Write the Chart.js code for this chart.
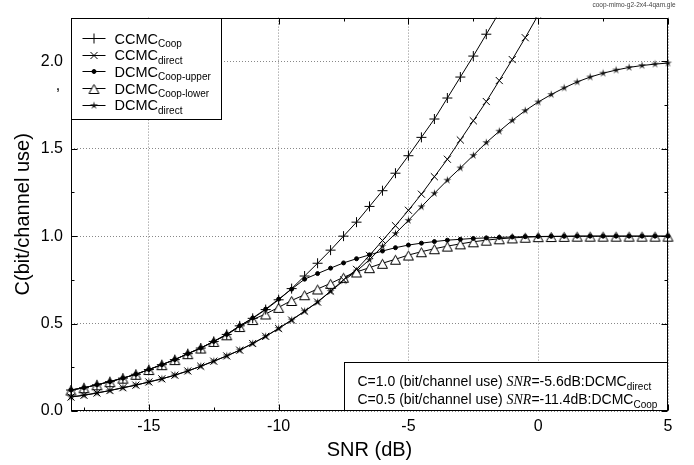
<!DOCTYPE html>
<html>
<head>
<meta charset="utf-8">
<script src="https://cdn.jsdelivr.net/npm/chart.js@4.4.0/dist/chart.umd.min.js"></script>
<style>
  html, body { margin: 0; padding: 0; background: #fff; }
  #wrap { width: 694px; height: 465px; }
</style>
</head>
<body>
<div id="wrap"><canvas id="capChart" width="694" height="465"></canvas></div>
<script>
// SNR in dB, one point every 0.5 dB
const snr = [-18, -17.5, -17, -16.5, -16, -15.5, -15, -14.5, -14, -13.5,
  -13, -12.5, -12, -11.5, -11, -10.5, -10, -9.5, -9, -8.5,
  -8, -7.5, -7, -6.5, -6, -5.5, -5, -4.5, -4, -3.5,
  -3, -2.5, -2, -1.5, -1, -0.5, 0, 0.5, 1, 1.5,
  2, 2.5, 3, 3.5, 4, 4.5, 5];

const ccmcCoop = [0.12, 0.133, 0.15, 0.168, 0.188, 0.21, 0.237, 0.265, 0.294, 0.328,
  0.36, 0.398, 0.438, 0.487, 0.53, 0.58, 0.636, 0.70, 0.772, 0.845,
  0.92, 1.0, 1.08, 1.17, 1.26, 1.36, 1.46, 1.565, 1.67, 1.79,
  1.91, 2.03, 2.155, 2.28, 2.41, null, null, null, null, null,
  null, null, null, null, null, null, null];

const ccmcDirect = [0.08, 0.09, 0.103, 0.117, 0.133, 0.148, 0.166, 0.184, 0.205, 0.229,
  0.256, 0.285, 0.315, 0.348, 0.386, 0.427, 0.472, 0.52, 0.571, 0.623,
  0.686, 0.75, 0.81, 0.89, 0.975, 1.06, 1.148, 1.24, 1.34, 1.44,
  1.55, 1.66, 1.77, 1.89, 2.01, 2.135, 2.265, 2.39, null, null,
  null, null, null, null, null, null, null];

const dcmcCoopUpper = [0.12, 0.133, 0.15, 0.168, 0.188, 0.21, 0.237, 0.265, 0.294, 0.328,
  0.36, 0.398, 0.438, 0.487, 0.532, 0.583, 0.64, 0.697, 0.754, 0.786,
  0.817, 0.847, 0.871, 0.893, 0.915, 0.934, 0.949, 0.96, 0.969, 0.977,
  0.982, 0.987, 0.99, 0.993, 0.995, 0.997, 0.998, 0.999, 0.999, 1.0,
  1.0, 1.0, 1.0, 1.0, 1.0, 1.0, 1.0];

const dcmcCoopLower = [0.12, 0.133, 0.15, 0.168, 0.188, 0.21, 0.237, 0.265, 0.294, 0.328,
  0.36, 0.398, 0.436, 0.483, 0.523, 0.555, 0.593, 0.632, 0.665, 0.698,
  0.73, 0.765, 0.795, 0.82, 0.845, 0.868, 0.892, 0.911, 0.928, 0.943,
  0.956, 0.968, 0.977, 0.985, 0.99, 0.994, 0.997, 0.998, 0.999, 1.0,
  1.0, 1.0, 1.0, 1.0, 1.0, 1.0, 1.0];

const dcmcDirect = [0.08, 0.09, 0.103, 0.117, 0.133, 0.148, 0.166, 0.184, 0.205, 0.229,
  0.256, 0.285, 0.315, 0.348, 0.386, 0.427, 0.472, 0.52, 0.571, 0.623,
  0.684, 0.745, 0.8, 0.865, 0.942, 1.015, 1.09, 1.168, 1.245, 1.32,
  1.39, 1.462, 1.535, 1.6, 1.662, 1.718, 1.767, 1.81, 1.848, 1.882,
  1.91, 1.932, 1.95, 1.965, 1.976, 1.984, 1.99];

// legend names: [main, subscript]
const names = [['CCMC', 'Coop'], ['CCMC', 'direct'], ['DCMC', 'Coop-upper'],
  ['DCMC', 'Coop-lower'], ['DCMC', 'direct']];

const xTicks = [-15, -10, -5, 0, 5];
const xMinor = [-17.5, -12.5, -7.5, -2.5, 2.5];
const yTicks = [0, 0.5, 1, 1.5, 2];
const yMinor = [0.25, 0.75, 1.25, 1.75];

const notes = [
  ['C=1.0 (bit/channel use) ', 'SNR', '=-5.6dB:DCMC', 'direct'],
  ['C=0.5 (bit/channel use) ', 'SNR', '=-11.4dB:DCMC', 'Coop']
];

const SANS = "'Liberation Sans', Arial, Helvetica, sans-serif";
const SERIF = "'Liberation Serif', 'Times New Roman', serif";

// small thin star marker
const starImg = document.createElement('canvas');
starImg.width = 11; starImg.height = 11;
(function () {
  const c = starImg.getContext('2d');
  c.beginPath();
  for (let i = 0; i < 10; i++) {
    const r = i % 2 ? 1.3 : 4.2;
    const a = -Math.PI / 2 + i * Math.PI / 5;
    const px = 5.5 + r * Math.cos(a), py = 5.5 + r * Math.sin(a);
    if (i === 0) c.moveTo(px, py); else c.lineTo(px, py);
  }
  c.closePath();
  c.fillStyle = '#111';
  c.fill();
})();

// open triangle marker, sits a bit low on the line like the original
const triImg = document.createElement('canvas');
triImg.width = 15; triImg.height = 15;
(function () {
  const c = triImg.getContext('2d');
  c.beginPath();
  c.moveTo(7.5, 3.5);
  c.lineTo(12.5, 12.5);
  c.lineTo(2.5, 12.5);
  c.closePath();
  c.fillStyle = '#fff';
  c.fill();
  c.strokeStyle = '#000';
  c.lineWidth = 1;
  c.stroke();
})();

function pts(arr) {
  return snr.map((x, i) => ({ x: x, y: arr[i] }));
}

function makeSet(label, arr, style, radius) {
  return {
    label: label,
    data: pts(arr),
    borderColor: '#000',
    backgroundColor: '#000',
    borderWidth: 1,
    pointStyle: style,
    pointRadius: radius,
    pointBorderWidth: 1,
    pointBorderColor: '#000',
    pointBackgroundColor: '#000',
    spanGaps: false,
    tension: 0,
    clip: { left: 10, right: 10, top: 0, bottom: 10 }
  };
}

function drawSubText(ctx, x, y, parts, size) {
  // parts: [main, sub]
  ctx.font = size + 'px ' + SANS;
  ctx.fillText(parts[0], x, y);
  const w = ctx.measureText(parts[0]).width;
  ctx.font = Math.round(size * 0.72) + 'px ' + SANS;
  ctx.fillText(parts[1], x + w, y + 3.5);
}

const decorations = {
  id: 'decorations',
  afterDatasetsDraw(chart) {
    const { ctx, chartArea: a, scales: { x, y } } = chart;
    const L = Math.round(a.left) + 0.5, R = Math.round(a.right) - 0.5;
    const T = Math.round(a.top) + 0.5, B = Math.round(a.bottom) - 0.5;
    ctx.save();
    ctx.strokeStyle = '#000';
    ctx.lineWidth = 1;

    // inward tick marks on all four sides
    ctx.beginPath();
    const xt = (v, len) => {
      const px = Math.round(x.getPixelForValue(v)) + 0.5;
      ctx.moveTo(px, B); ctx.lineTo(px, B - len);
      ctx.moveTo(px, T); ctx.lineTo(px, T + len);
    };
    const yt = (v, len) => {
      const py = Math.round(y.getPixelForValue(v)) + 0.5;
      ctx.moveTo(L, py); ctx.lineTo(L + len, py);
      ctx.moveTo(R, py); ctx.lineTo(R - len, py);
    };
    xTicks.forEach(v => xt(v, 6));
    xMinor.forEach(v => xt(v, 3));
    yTicks.forEach(v => yt(v, 6));
    yMinor.forEach(v => yt(v, 3));
    ctx.stroke();

    // frame
    ctx.strokeRect(L, T, R - L, B - T);

    // legend box
    const lw = 150, lh = 101;
    ctx.fillStyle = '#fff';
    ctx.fillRect(L, T, lw, lh);
    ctx.strokeRect(L, T, lw, lh);
    chart.data.datasets.forEach((ds, i) => {
      const ry = T + 19.5 + i * 16.7;
      ctx.beginPath();
      ctx.moveTo(L + 11, Math.round(ry) + 0.5);
      ctx.lineTo(L + 34, Math.round(ry) + 0.5);
      ctx.strokeStyle = '#000';
      ctx.stroke();
      Chart.helpers.drawPoint(ctx, {
        pointStyle: ds.pointStyle,
        radius: ds.pointRadius,
        rotation: 0,
        borderWidth: 1
      }, L + 22.5, Math.round(ry) + 0.5);
      ctx.fillStyle = '#000';
      ctx.textBaseline = 'alphabetic';
      ctx.textAlign = 'left';
      drawSubText(ctx, L + 43, ry + 5.5, names[i], 14.5);
    });

    // annotation box bottom right
    const bw = 323, bh = 48;
    const bx = R - bw, by = B - bh;
    ctx.fillStyle = '#fff';
    ctx.fillRect(bx, by, bw, bh);
    ctx.strokeRect(bx, by, bw, bh);
    ctx.fillStyle = '#000';
    notes.forEach((n, i) => {
      const ty = by + 23.5 + i * 18;
      let tx = bx + 13;
      ctx.font = '14px ' + SANS;
      ctx.fillText(n[0], tx, ty);
      tx += ctx.measureText(n[0]).width;
      ctx.font = 'italic 14px ' + SERIF;
      ctx.fillText(n[1], tx, ty);
      tx += ctx.measureText(n[1]).width;
      ctx.font = '14px ' + SANS;
      ctx.fillText(n[2], tx, ty);
      tx += ctx.measureText(n[2]).width;
      ctx.font = '10px ' + SANS;
      ctx.fillText(n[3], tx, ty + 3.5);
    });
    ctx.restore();
  },
  afterDraw(chart) {
    const ctx = chart.ctx;
    ctx.save();
    ctx.fillStyle = '#444';
    ctx.font = '6.5px ' + SANS;
    ctx.textAlign = 'center';
    ctx.textBaseline = 'middle';
    ctx.fillText('coop-mimo-g2-2x4-4qam.gle', 634, 5);
    ctx.fillStyle = '#000';
    ctx.font = '16px ' + SANS;
    ctx.fillText(',', 58, 86);
    ctx.restore();
  }
};

Chart.defaults.font.family = SANS;
Chart.defaults.color = '#000';

const ctx = document.getElementById('capChart').getContext('2d');
const capChart = new Chart(ctx, {
  type: 'line',
  data: {
    datasets: [
      makeSet('CCMC Coop', ccmcCoop, 'cross', 5),
      makeSet('CCMC direct', ccmcDirect, 'crossRot', 5),
      makeSet('DCMC Coop-upper', dcmcCoopUpper, 'circle', 2),
      makeSet('DCMC Coop-lower', dcmcCoopLower, triImg, 6),
      makeSet('DCMC direct', dcmcDirect, starImg, 4)
    ]
  },
  options: {
    responsive: false,
    animation: false,
    events: [],
    layout: { padding: { left: 0, right: 26, top: 15, bottom: 0 } },
    plugins: {
      legend: { display: false },
      tooltip: { enabled: false }
    },
    scales: {
      x: {
        type: 'linear',
        min: -18,
        max: 5,
        afterBuildTicks: s => { s.ticks = xTicks.map(v => ({ value: v })); },
        afterFit: s => { s.height = 54; },
        ticks: {
          font: { size: 16 },
          padding: 6,
          maxRotation: 0,
          callback: v => String(v)
        },
        grid: { color: '#888', lineWidth: 1, drawTicks: false },
        border: { display: false, dash: [1, 2] },
        title: {
          display: true,
          text: 'SNR (dB)',
          font: { size: 20 },
          padding: { top: 0, bottom: 3 }
        }
      },
      y: {
        type: 'linear',
        min: 0,
        max: 2.25,
        afterBuildTicks: s => { s.ticks = yTicks.map(v => ({ value: v })); },
        afterFit: s => { s.width = 71; },
        ticks: {
          font: { size: 16 },
          padding: 8,
          callback: v => v.toFixed(1)
        },
        grid: { color: '#888', lineWidth: 1, drawTicks: false },
        border: { display: false, dash: [1, 2] },
        title: {
          display: true,
          text: 'C(bit/channel use)',
          font: { size: 20 },
          padding: { top: 11, bottom: 0 }
        }
      }
    }
  },
  plugins: [decorations]
});
</script>
</body>
</html>
